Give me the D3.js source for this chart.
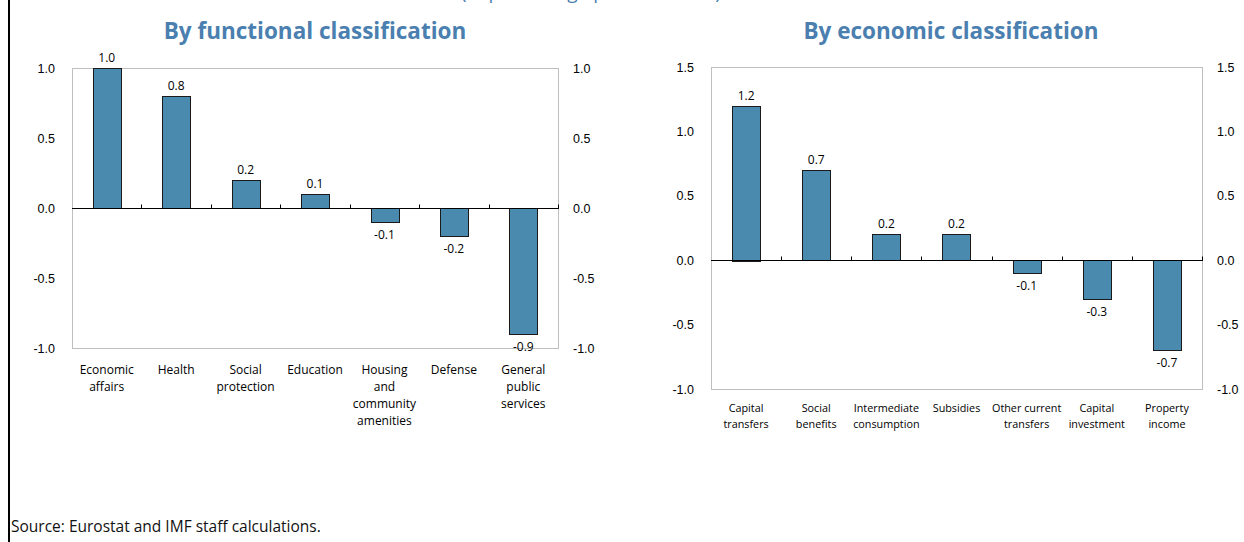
<!DOCTYPE html>
<meta charset="utf-8">
<style>
body { margin: 0; background: #fff; }
svg { font-family: "Open Sans", "Noto Sans", sans-serif; }
.frame { fill: none; stroke: #bfbfbf; stroke-width: 1; }
.zero { stroke: #000; stroke-width: 1; }
.bar { fill: #4a8aae; stroke: #1a1a1a; stroke-width: 1; }
.tick-lbl { font-size: 12.5px; fill: #000; }
.val-lbl { font-size: 12px; fill: #000; }
.cat-lbl { fill: #000; }
.title { font-size: 22.5px; font-weight: bold; fill: #4a7fb0; }
.source { font-size: 15.5px; fill: #111; }
</style>
<svg id="chart" width="1244" height="542"></svg>
<script src="https://d3js.org/d3.v7.min.js"></script>
<script>

var funcCats = [["Economic", "affairs"], ["Health"], ["Social", "protection"], ["Education"],
                ["Housing", "and", "community", "amenities"], ["Defense"], ["General", "public", "services"]];
var funcVals = [1.0, 0.8, 0.2, 0.1, -0.1, -0.2, -0.9];
var funcTicks = [-1.0, -0.5, 0.0, 0.5, 1.0];

var econCats = [["Capital", "transfers"], ["Social", "benefits"], ["Intermediate", "consumption"], ["Subsidies"],
                ["Other current", "transfers"], ["Capital", "investment"], ["Property", "income"]];
var econVals = [1.2, 0.7, 0.2, 0.2, -0.1, -0.3, -0.7];
var econTicks = [-1.0, -0.5, 0.0, 0.5, 1.0, 1.5];

var svg = d3.select("#chart");
var fmt = function(d) { return d.toFixed(1); };

// left frame line
svg.append("line")
    .attr("x1", 9).attr("x2", 9).attr("y1", 0).attr("y2", 542)
    .attr("stroke", "#000").attr("stroke-width", 2);

// subtitle, cut off by the top edge as in the original
svg.append("text")
    .attr("x", 591).attr("y", -1)
    .attr("text-anchor", "middle")
    .attr("font-size", "19px")
    .attr("fill", "#4a7fb0")
    .text("(In percentage points of GDP)");

function drawPanel(opts) {
  var cats = opts.cats, vals = opts.vals;
  var x = d3.scaleBand()
      .domain(d3.range(cats.length))
      .range([opts.x0, opts.x1])
      .padding(0);
  var y = d3.scaleLinear()
      .domain(opts.domain)
      .range([opts.yBottom, opts.yTop]);

  var g = svg.append("g");

  g.append("text")
      .attr("class", "title")
      .attr("x", opts.titleX).attr("y", 39)
      .attr("text-anchor", "middle")
      .text(opts.title);

  g.append("rect")
      .attr("class", "frame")
      .attr("x", opts.x0 + 0.5).attr("y", y(opts.domain[1]) + 0.5)
      .attr("width", opts.x1 - opts.x0)
      .attr("height", y(opts.domain[0]) - y(opts.domain[1]));

  // left and right axes (labels only)
  var left = g.append("g")
      .attr("transform", "translate(" + (opts.x0 - 14) + ",0)")
      .call(d3.axisLeft(y).tickValues(opts.ticks).tickSize(0).tickFormat(fmt));
  var right = g.append("g")
      .attr("transform", "translate(" + (opts.x1 + 12) + ",0)")
      .call(d3.axisRight(y).tickValues(opts.ticks).tickSize(0).tickFormat(fmt));
  [left, right].forEach(function(a) {
    a.select(".domain").remove();
    a.selectAll("text").attr("class", "tick-lbl").attr("font-family", null).attr("font-size", null);
  });

  var bw = x.bandwidth() * 0.4;
  g.selectAll(".bar")
      .data(vals)
      .enter().append("rect")
      .attr("class", "bar")
      .attr("x", function(d, i) { return Math.round(x(i) + x.bandwidth() / 2 - bw / 2) + 0.5; })
      .attr("y", function(d) { return Math.round(y(Math.max(0, d))) + 0.5; })
      .attr("width", Math.round(bw))
      .attr("height", function(d) { return Math.round(Math.abs(y(d) - y(0))); });

  // zero line with category separator ticks
  var y0 = Math.round(y(0)) + 0.5;
  g.append("line")
      .attr("class", "zero")
      .attr("x1", opts.x0).attr("x2", opts.x1 + 1)
      .attr("y1", y0).attr("y2", y0);
  g.selectAll(".sep")
      .data(d3.range(1, cats.length + 1))
      .enter().append("line")
      .attr("class", "zero")
      .attr("x1", function(i) { return Math.round(x(i - 1) + x.bandwidth()) + 0.5; })
      .attr("x2", function(i) { return Math.round(x(i - 1) + x.bandwidth()) + 0.5; })
      .attr("y1", y0 - 4).attr("y2", y0);

  // value labels
  g.selectAll(".val-lbl")
      .data(vals)
      .enter().append("text")
      .attr("class", "val-lbl")
      .attr("x", function(d, i) { return x(i) + x.bandwidth() / 2; })
      .attr("y", function(d) { return d >= 0 ? y(d) - 6 : y(d) + 17; })
      .attr("text-anchor", "middle")
      .text(fmt);

  // category labels
  var cg = g.selectAll(".cat")
      .data(cats)
      .enter().append("text")
      .attr("class", "cat-lbl")
      .attr("font-size", opts.catSize)
      .attr("text-anchor", "middle")
      .attr("transform", function(d, i) {
        return "translate(" + (x(i) + x.bandwidth() / 2) + "," + opts.catY + ")";
      });
  cg.selectAll("tspan")
      .data(function(d) { return d; })
      .enter().append("tspan")
      .attr("x", 0)
      .attr("dy", function(d, j) { return j === 0 ? 0 : opts.catLine; })
      .text(function(d) { return d; });
}

drawPanel({
  title: "By functional classification", titleX: 315,
  cats: funcCats, vals: funcVals, ticks: funcTicks,
  domain: [-1.0, 1.0], x0: 72, x1: 558, yTop: 68, yBottom: 348,
  catY: 374, catLine: 17, catSize: "12px"
});

drawPanel({
  title: "By economic classification", titleX: 951,
  cats: econCats, vals: econVals, ticks: econTicks,
  domain: [-1.0, 1.5], x0: 711, x1: 1202, yTop: 67, yBottom: 389,
  catY: 412, catLine: 16, catSize: "10.8px"
});

svg.append("text")
    .attr("class", "source")
    .attr("x", 11).attr("y", 532)
    .text("Source: Eurostat and IMF staff calculations.");

</script>
